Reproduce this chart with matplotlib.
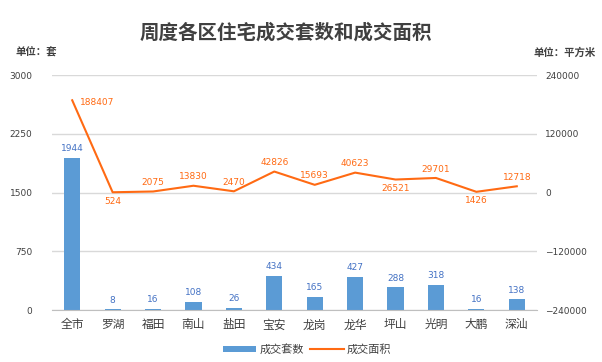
import numpy as np
import matplotlib.pyplot as plt

plt.rcParams['font.family'] = ['Noto Sans CJK SC', 'DejaVu Sans']

# 数据
districts = ['全市', '罗湖', '福田', '南山', '盐田', '宝安', '龙岗', '龙华', '坪山', '光明', '大鹏', '深汕']
units = [1944, 8, 16, 108, 26, 434, 165, 427, 288, 318, 16, 138]
area = [188407, 524, 2075, 13830, 2470, 42826, 15693, 40623, 26521, 29701, 1426, 12718]
area_below = [524, 26521, 1426]  # 标签放在线下方

bar_color = '#5B9BD5'
line_color = '#FF6A13'
num_font = ['DejaVu Sans']

fig = plt.figure(figsize=(6.02, 3.62), dpi=100)
ax = fig.add_axes([0.0864, 0.1436, 0.8056, 0.6492])
ax2 = ax.twinx()

x = np.arange(len(districts))
ax.bar(x, units, width=0.4, color=bar_color, zorder=2, label='成交套数')
for xi, v in zip(x, units):
    ax.text(xi, v + 60, str(v), ha='center', va='bottom', fontsize=6.5,
            color='#4472C4', family=num_font)

ax2.plot(x, area, color=line_color, lw=1.5, zorder=3, label='成交面积')
for i, (xi, v) in enumerate(zip(x, area)):
    if i == 0:
        ax2.text(xi + 0.2, v - 4000, str(v), ha='left', va='center', fontsize=6.5,
                 color=line_color, family=num_font)
    elif v in area_below:
        ax2.text(xi, v - 9000, str(v), ha='center', va='top', fontsize=6.5,
                 color=line_color, family=num_font)
    else:
        ax2.text(xi, v + 9000, str(v), ha='center', va='bottom', fontsize=6.5,
                 color=line_color, family=num_font)

ax.set_xlim(-0.5, len(districts) - 0.5)
ax.set_ylim(0, 3000)
ax.set_yticks([0, 750, 1500, 2250, 3000])
ax2.set_ylim(-240000, 240000)
ax2.set_yticks([-240000, -120000, 0, 120000, 240000])

ax.grid(axis='y', color='#D9D9D9', lw=1, zorder=0)
ax.set_axisbelow(True)
for a in (ax, ax2):
    for s in a.spines.values():
        s.set_visible(False)
    a.tick_params(length=0, labelsize=6.5, colors='#404040')
    for lab in a.get_yticklabels():
        lab.set_family(num_font)
ax.spines['bottom'].set_visible(True)
ax.spines['bottom'].set_color('#BFBFBF')
ax.set_xticks(x)
ax.set_xticklabels(districts, fontsize=8.5)
ax.tick_params(axis='x', pad=6)
ax.tick_params(axis='y', pad=14)
ax2.tick_params(axis='y', pad=6)

fig.text(0.475, 0.909, '周度各区住宅成交套数和成交面积', ha='center', va='center',
         fontsize=14, fontweight='bold', color='#404040')
fig.text(0.025, 0.855, '单位：套', ha='left', va='center', fontsize=7.5,
         fontweight='bold', color='#404040')
fig.text(0.99, 0.855, '单位：平方米', ha='right', va='center', fontsize=7.5,
         fontweight='bold', color='#404040')

h1, l1 = ax.get_legend_handles_labels()
h2, l2 = ax2.get_legend_handles_labels()
fig.legend(h1 + h2, l1 + l2, loc='center', bbox_to_anchor=(0.51, 0.035), ncol=2,
           frameon=False, fontsize=8, handlelength=3, handleheight=0.5,
           columnspacing=0.6, handletextpad=0.3, labelcolor='#404040')

fig.savefig('out.png', dpi=100)
